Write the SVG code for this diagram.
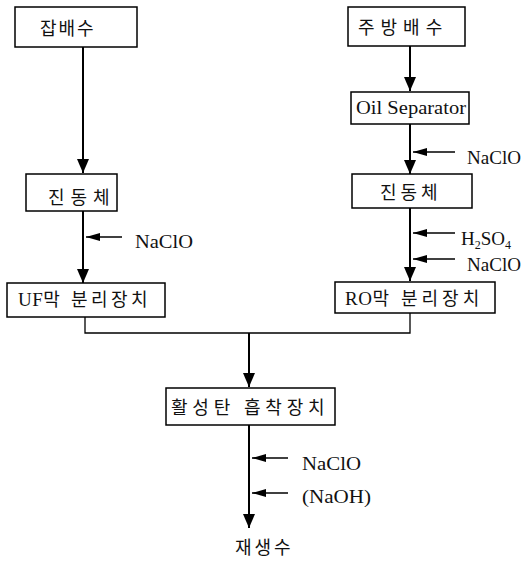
<svg xmlns="http://www.w3.org/2000/svg" width="527" height="561" viewBox="0 0 527 561">
<style>
.box{fill:#fff;stroke:#000;stroke-width:1.5}
.ko{font-family:"Noto Sans CJK KR","Noto Sans",sans-serif;font-size:18px;fill:#111}
.en{font-family:"Liberation Serif",serif;font-size:19px;fill:#111}
.ln{stroke:#000;stroke-width:2;fill:none}
.sl{stroke:#000;stroke-width:1.3;fill:none}
</style>
<defs>
<marker id="ah" viewBox="0 0 14 12" refX="14" refY="6" markerWidth="14" markerHeight="12" markerUnits="userSpaceOnUse" orient="auto">
<path d="M0,0 L14,6 L0,12 Z" fill="#000"/>
</marker>
<marker id="sa" viewBox="0 0 14 8" refX="14" refY="4" markerWidth="14" markerHeight="8" markerUnits="userSpaceOnUse" orient="auto">
<path d="M0,0 L14,4 L0,8 Z" fill="#000"/>
</marker>
</defs>
<g id="connectors">
<line class="ln" x1="83" y1="47" x2="83" y2="173" marker-end="url(#ah)"/>
<line class="ln" x1="410" y1="46" x2="410" y2="91" marker-end="url(#ah)"/>
<line class="ln" x1="410" y1="124" x2="410" y2="174" marker-end="url(#ah)"/>
<line class="ln" x1="83" y1="211" x2="83" y2="283" marker-end="url(#ah)"/>
<line class="ln" x1="410" y1="208" x2="410" y2="281" marker-end="url(#ah)"/>
<polyline class="sl" points="85,317 85,333 410,333 410,313"/>
<line class="ln" x1="249" y1="333" x2="249" y2="387" marker-end="url(#ah)"/>
<line class="ln" x1="249" y1="425" x2="249" y2="528" marker-end="url(#ah)"/>
<line class="sl" x1="122" y1="237" x2="86" y2="237" marker-end="url(#sa)"/>
<line class="sl" x1="455" y1="152" x2="413" y2="152" marker-end="url(#sa)"/>
<line class="sl" x1="455" y1="233" x2="413" y2="233" marker-end="url(#sa)"/>
<line class="sl" x1="455" y1="259" x2="413" y2="259" marker-end="url(#sa)"/>
<line class="sl" x1="288" y1="458" x2="252" y2="458" marker-end="url(#sa)"/>
<line class="sl" x1="288" y1="493" x2="252" y2="493" marker-end="url(#sa)"/>
</g>
<g id="n1"><rect class="box" x="15" y="7" width="122" height="40"/><text class="ko" x="40" y="35" letter-spacing="2">잡배수</text></g>
<g id="n2"><rect class="box" x="348" y="7" width="117" height="39"/><text class="ko" x="358" y="34" letter-spacing="6">주방배수</text></g>
<g id="n3"><rect class="box" x="351" y="92" width="118" height="32"/><text class="en" x="356" y="114" textLength="110" lengthAdjust="spacingAndGlyphs">Oil Separator</text></g>
<g id="n4"><rect class="box" x="26" y="174" width="91" height="37"/><text class="ko" x="48" y="204" letter-spacing="6">진동체</text></g>
<g id="n5"><rect class="box" x="352" y="174" width="120" height="34"/><text class="ko" x="380" y="199" letter-spacing="4">진동체</text></g>
<g id="n6"><rect class="box" x="7" y="283" width="158" height="34"/><text class="ko" x="18" y="306" letter-spacing="3.5"><tspan class="en" letter-spacing="0.5">UF</tspan>막 분리장치</text></g>
<g id="n7"><rect class="box" x="335" y="282" width="160" height="31"/><text class="ko" x="345" y="305" letter-spacing="4"><tspan class="en" letter-spacing="0.5">RO</tspan>막 분리장치</text></g>
<g id="n8"><rect class="box" x="166" y="388" width="169" height="37"/><text class="ko" x="171" y="414" letter-spacing="4.8">활성탄 흡착장치</text></g>
<g id="labels">
<text class="en" x="135" y="248" textLength="58" lengthAdjust="spacingAndGlyphs">NaClO</text>
<text class="en" x="467" y="164" textLength="54" lengthAdjust="spacingAndGlyphs">NaClO</text>
<text class="en" x="461" y="245">H<tspan font-size="12" dy="4">2</tspan><tspan dy="-4">SO</tspan><tspan font-size="12" dy="4">4</tspan></text>
<text class="en" x="467" y="271" textLength="54" lengthAdjust="spacingAndGlyphs">NaClO</text>
<text class="en" x="302" y="470" textLength="59" lengthAdjust="spacingAndGlyphs">NaClO</text>
<text class="en" x="302" y="503" textLength="69" lengthAdjust="spacingAndGlyphs">(NaOH)</text>
<text class="ko" x="235" y="554" letter-spacing="3">재생수</text>
</g>
</svg>
